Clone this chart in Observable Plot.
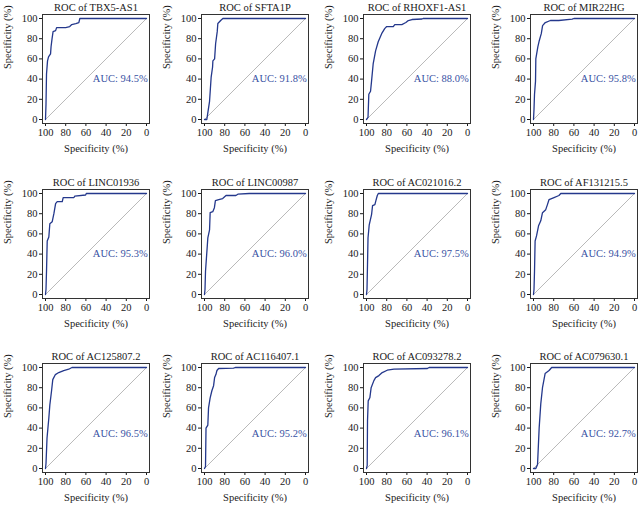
<!DOCTYPE html>
<html><head><meta charset="utf-8">
<script src="https://cdn.jsdelivr.net/npm/d3@7"></script>
<script src="https://cdn.jsdelivr.net/npm/@observablehq/plot@0.6"></script>
<style>
html,body{margin:0;padding:0;background:#fff;}
#chart{position:relative;width:638px;height:507px;overflow:hidden;background:#fff;}
#chart .panel{position:absolute;}
</style></head><body><div id="chart"></div>
<script>
// ---- data ----
const genes = ["TBX5-AS1","SFTA1P","RHOXF1-AS1","MIR22HG","LINC01936","LINC00987","AC021016.2","AF131215.5","AC125807.2","AC116407.1","AC093278.2","AC079630.1"];
const aucValues = [94.5, 91.8, 88.0, 95.8, 95.3, 96.0, 97.5, 94.9, 96.5, 95.2, 96.1, 92.7];
const tickValues = [0, 20, 40, 60, 80, 100];

const spec1 = [100,99.5,99,98,97,95,94.5,93.5,92.5,90,89,80,76,74,70,67,66,0];
const sens1 = [0,15,45,58,62,65,72,80,87,88,91,91,92,94,95,96,100,100];
const spec2 = [100,97.7,96.5,95,93.4,92,91.7,90,89,87.4,86.8,84,81.8,0];
const sens2 = [0,0,8,18,42,52,58,60,75,87,95,98,100,100];
const spec3 = [100,98.5,97.7,96,95,93.4,91,88.4,85,82,80,73.5,72,65,61,58.6,55,45,44,0];
const sens3 = [0,2,25,28,38,55,68,77,85,90,92,92,94,94,96,98,99,99.5,100,100];
const spec4 = [100,99.5,99,98,97.7,95.7,94.3,92.3,91,88.3,83.3,75,61.7,60,0];
const sens4 = [0,10,25,38,60,72,78,85,93,96,98,98,99.3,100,100];
const spec5 = [100,99.5,99,98.3,96.7,95.7,93.4,91.7,90,88.4,83.4,82.5,71.8,71,60.3,59.6,0];
const sens5 = [0,5,23,53,57,70,72,80,90,92,92,96,96,97.5,98.5,100,100];
const spec6 = [100,99.5,99,96.7,95,94.4,91.8,90.2,89.2,85.9,82,78.7,68.9,67,55.7,0];
const sens6 = [0,5,23,56,64,81,82,86,93,94,95,98,98,99.3,100,100];
const spec7 = [100,99.5,99,98.5,97.3,95,94,91.7,90.7,89.3,88.3,0];
const sens7 = [0,5,30,56,69,79,88,89,93,98,100,100];
const spec8 = [100,99.5,99,98.4,97,95,92.8,91.1,87.9,86.2,84.6,79.7,74.8,73,0];
const sens8 = [0,5,23,53,58,68,73,81,84,89,94,96,98,100,100];
const spec9 = [100,99.5,98.5,96.7,95.7,94,92.8,90.2,86.9,82,77,73.8,0];
const sens9 = [0,5,30,50,63,77,88,93,95,97,98.3,100,100];
const spec10 = [100,99,98.5,96.7,96,94.4,92.7,91,90,88.7,87.7,86,71.2,69.5,0];
const sens10 = [0,2,40,43,60,70,77,82,90,93,97,99,99.3,100,100];
const spec11 = [100,99.3,99,98.3,96.7,95.4,92.7,91,87.7,84.4,79.5,72.8,39.7,38,0];
const sens11 = [0,3,47,67,70,80,87,90,92,95,97.3,98.3,99,100,100];
const spec12 = [100,97.7,96,94.4,92.8,91.1,88.5,84.6,82,0];
const sens12 = [0,0,4,40,64,80,94,97,100,100];

const specs = [spec1,spec2,spec3,spec4,spec5,spec6,spec7,spec8,spec9,spec10,spec11,spec12];
const senss = [sens1,sens2,sens3,sens4,sens5,sens6,sens7,sens8,sens9,sens10,sens11,sens12];

// ---- layout ----
const colLeft = [42, 201, 363, 530];
const rowTop = [14, 189, 363];
const boxW = 107, boxH = 109;
const mL = 42, mT = 20, svgW = 160, svgH = 170;
const font = "'Liberation Serif', 'DejaVu Serif', serif";
const lineColor = "#24388c";
const aucColor = "#3851a3";

const chart = document.getElementById("chart");
const [lo, hi] = d3.extent(tickValues);

genes.forEach((g, i) => {
  const c = i % 4, r = Math.floor(i / 4);
  const rows = specs[i].map((s, k) => ({spec: s, sens: senss[i][k]}));
  const diag = [{spec: hi, sens: lo}, {spec: lo, sens: hi}];
  const aucY = r === 2 ? 35 : 40;
  const p = Plot.plot({
    width: svgW, height: svgH,
    marginLeft: mL, marginTop: mT,
    marginRight: svgW - mL - boxW, marginBottom: svgH - mT - boxH,
    x: {domain: [hi, lo], ticks: tickValues, tickSize: 3, tickPadding: 2, label: null, insetLeft: 3, insetRight: 3},
    y: {domain: [lo, hi], ticks: tickValues, tickSize: 3, tickPadding: 2, label: null, insetTop: 4, insetBottom: 4},
    style: {fontFamily: font, fontSize: "10.5px", color: "#1a1a1a", background: "transparent", overflow: "visible"},
    marks: [
      Plot.line(diag, {x: "spec", y: "sens", stroke: "#8a8a8a", strokeWidth: 0.6}),
      Plot.line(rows, {x: "spec", y: "sens", stroke: lineColor, strokeWidth: 1.3}),
      Plot.frame({stroke: "#333", strokeWidth: 1}),
      Plot.text([`AUC: ${aucValues[i].toFixed(1)}%`], {x: 26, y: aucY, text: d => d, fill: aucColor, fontSize: 10.5}),
      Plot.text([`ROC of ${g}`], {frameAnchor: "top", dy: -11, text: d => d, fill: "#1a1a1a", fontSize: 10.5}),
      Plot.text(["Specificity (%)"], {frameAnchor: "bottom", dy: 28, text: d => d, fill: "#1a1a1a", fontSize: 10.5}),
      Plot.text(["Specificity (%)"], {frameAnchor: "left", dx: -35, rotate: -90, text: d => d, fill: "#1a1a1a", fontSize: 10.5})
    ]
  });
  p.classList.add("panel");
  p.style.left = (colLeft[c] - mL) + "px";
  p.style.top = (rowTop[r] - mT) + "px";
  chart.appendChild(p);
});
</script>
</body></html>
